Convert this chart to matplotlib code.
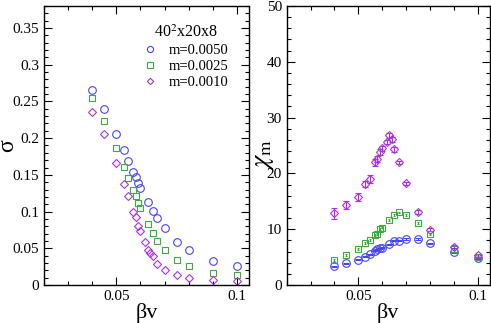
import numpy as np
import matplotlib
matplotlib.use("Agg")
import matplotlib.pyplot as plt
from matplotlib.ticker import MultipleLocator, FuncFormatter

plt.rcParams['font.family'] = ['Liberation Serif', 'DejaVu Serif']
plt.rcParams['mathtext.fontset'] = 'stix'

# beta*v grid
bv = [0.04, 0.045, 0.05, 0.053, 0.055, 0.057, 0.058, 0.059, 0.06, 0.063,
      0.065, 0.067, 0.07, 0.075, 0.08, 0.09, 0.1]
bv_p = [0.04, 0.045, 0.05, 0.053, 0.055, 0.057, 0.058, 0.059, 0.06, 0.062,
        0.063, 0.064, 0.065, 0.067, 0.07, 0.075, 0.08, 0.09, 0.1]

# sigma (left)
sig_50 = [0.266, 0.239, 0.206, 0.184, 0.169, 0.154, 0.147, 0.139, 0.132, 0.113,
          0.101, 0.091, 0.077, 0.059, 0.047, 0.033, 0.026]
sig_25 = [0.254, 0.223, 0.187, 0.161, 0.146, 0.130, 0.121, 0.112, 0.105, 0.083,
          0.071, 0.060, 0.048, 0.034, 0.026, 0.017, 0.013]
sig_10 = [0.236, 0.205, 0.166, 0.138, 0.121, 0.099, 0.092, 0.081, 0.074, 0.058,
          0.048, 0.044, 0.039, 0.029, 0.021, 0.013, 0.010, 0.007, 0.005]

# chi_m (right)
chi_50 = [3.35, 3.9, 4.5, 5.1, 5.5, 6.15, 6.4, 6.6, 6.7, 7.3,
          7.9, 7.95, 8.25, 8.25, 7.5, 5.9, 4.8]
chi_25 = [4.5, 5.4, 6.4, 7.5, 8.1, 9.0, 9.1, 10.0, 10.3, 11.6,
          12.5, 13.0, 12.5, 11.1, 9.1, 6.5, 5.1]
chi_10 = [12.85, 14.3, 15.8, 18.1, 19.0, 22.0, 22.6, 23.8, 24.5, 25.6,
          26.8, 26.1, 24.3, 22.0, 18.2, 13.1, 9.9, 6.9, 5.3]
err_50 = [0.1] * 17
err_25 = [0.15] * 17
err_10 = [1.0, 0.7, 0.7, 0.6, 0.7, 0.6, 0.5, 0.5, 0.4, 0.4,
          0.4, 0.4, 0.4, 0.3, 0.3, 0.3, 0.3, 0.2, 0.2]

labels = ['m=0.0050', 'm=0.0025', 'm=0.0010']
c_blue = '#4444ff'
c_green = '#3daa3d'
c_purple = '#aa33dd'

fig = plt.figure(figsize=(4.91, 3.23), dpi=100)
ax1 = fig.add_axes([0.0896, 0.1176, 0.4175, 0.864])
ax2 = fig.add_axes([0.584, 0.1176, 0.413, 0.864])

ax1.plot(bv, sig_50, 'o', ms=5.5, mfc='none', mec=c_blue, mew=0.8, label=labels[0])
ax1.plot(bv, sig_25, 's', ms=4.8, mfc='none', mec=c_green, mew=0.8, label=labels[1])
ax1.plot(bv_p, sig_10, 'D', ms=4.0, mfc='none', mec=c_purple, mew=0.8, label=labels[2])

ax2.errorbar(bv, chi_50, yerr=err_50, fmt='o', ms=5.5, mfc='none', mec=c_blue,
             mew=0.8, ecolor=c_blue, elinewidth=0.8, capsize=2.5)
ax2.errorbar(bv, chi_25, yerr=err_25, fmt='s', ms=4.8, mfc='none', mec=c_green,
             mew=0.8, ecolor=c_green, elinewidth=0.8, capsize=1)
ax2.errorbar(bv_p, chi_10, yerr=err_10, fmt='D', ms=4.0, mfc='none', mec=c_purple,
             mew=0.8, ecolor=c_purple, elinewidth=0.8, capsize=2)

fmt = FuncFormatter(lambda v, p: '%g' % round(v, 6))
for ax in (ax1, ax2):
    ax.set_xlim(0.02, 0.105)
    ax.xaxis.set_major_locator(MultipleLocator(0.05))
    ax.xaxis.set_minor_locator(MultipleLocator(0.01))
    ax.xaxis.set_major_formatter(fmt)
    ax.tick_params(which='both', direction='in', top=True, right=True, labelsize=11)
    ax.tick_params(which='major', length=6, width=0.8)
    ax.tick_params(which='minor', length=3, width=0.8)
    ax.set_xlabel('βv', fontsize=16, labelpad=0)
    for s in ax.spines.values():
        s.set_linewidth(1.0)

ax1.set_ylim(0, 0.38)
ax1.yaxis.set_major_locator(MultipleLocator(0.05))
ax1.yaxis.set_minor_locator(MultipleLocator(0.01))
ax1.yaxis.set_major_formatter(fmt)
ax1.set_ylabel('σ', fontsize=17)
ax1.yaxis.set_label_coords(-0.125, 0.5)

ax2.set_ylim(0, 50)
ax2.yaxis.set_major_locator(MultipleLocator(10))
ax2.yaxis.set_minor_locator(MultipleLocator(2))
ax2.set_ylabel(r'$\chi_{\mathrm{m}}$', fontsize=19)
ax2.yaxis.set_label_coords(-0.055, 0.47)

leg = ax1.legend(loc='upper right', bbox_to_anchor=(0.95, 0.97), frameon=False,
                 title='40$^2$x20x8', fontsize=10.5, title_fontsize=11.5,
                 handlelength=1.0, handletextpad=0.8, labelspacing=0.2,
                 borderpad=0.2, markerscale=0.8)

plt.savefig('out.png', dpi=100)
